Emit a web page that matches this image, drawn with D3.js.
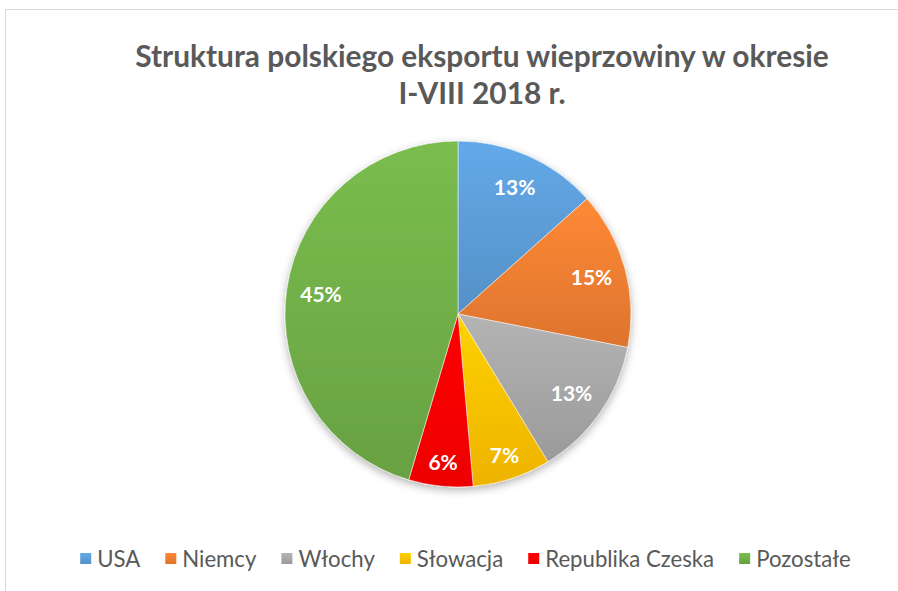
<!DOCTYPE html>
<html>
<head>
<meta charset="utf-8">
<script src="https://cdn.jsdelivr.net/npm/d3@7"></script>
<style>
  html, body { margin: 0; padding: 0; background: #fff; }
  svg { display: block; font-family: Lato, "Open Sans", sans-serif; }
</style>
</head>
<body>
<svg width="898" height="591"></svg>
<script>
const categories = ['USA', 'Niemcy', 'Włochy', 'Słowacja', 'Republika Czeska', 'Pozostałe'];
const shares = [13.4, 14.7, 13.2, 7.3, 6.0, 45.4];
const colors = ['#5B9BD5', '#ED7D31', '#A5A5A5', '#FFC000', '#FF0000', '#70AD47'];
const titleLines = ['Struktura polskiego eksportu wieprzowiny w okresie', 'I-VIII 2018 r.'];

const W = 898, H = 591;
const cx = 458, cy = 314, R = 173;

const svg = d3.select('svg');
const defs = svg.append('defs');

// ramka wykresu
svg.append('rect')
  .attr('x', 5.5).attr('y', 9.5)
  .attr('width', W + 10).attr('height', H + 10)
  .attr('fill', 'none')
  .attr('stroke', '#d9d9d9');

// tytuł - dopasowany do szerokości
const titleG = svg.append('g').attr('fill', '#595959').attr('font-weight', 'bold');
const t1 = titleG.append('text')
  .attr('x', 482).attr('y', 67)
  .attr('text-anchor', 'middle')
  .attr('font-size', 24)
  .text(titleLines[0]);
const fs = 24 * 694 / t1.node().getComputedTextLength();
t1.attr('font-size', fs);
titleG.append('text')
  .attr('x', 482).attr('y', 104)
  .attr('text-anchor', 'middle')
  .attr('font-size', fs)
  .text(titleLines[1]);

// gradienty i cień
colors.forEach((c, i) => {
  const g = defs.append('linearGradient')
    .attr('id', 'grad' + i)
    .attr('x1', 0).attr('y1', 0).attr('x2', 0).attr('y2', 1);
  g.append('stop').attr('offset', '0%').attr('stop-color', d3.color(c).brighter(0.25));
  g.append('stop').attr('offset', '100%').attr('stop-color', d3.color(c).darker(0.2));
});
const f = defs.append('filter').attr('id', 'shadow')
  .attr('x', '-20%').attr('y', '-20%').attr('width', '140%').attr('height', '140%');
f.append('feDropShadow')
  .attr('dx', 0).attr('dy', 3).attr('stdDeviation', 4)
  .attr('flood-color', '#000').attr('flood-opacity', 0.3);

const data = categories.map((name, i) => ({ name, value: shares[i], i }));
const pie = d3.pie().sort(null).value(d => d.value);
const arc = d3.arc().innerRadius(0).outerRadius(R);

const pieG = svg.append('g').attr('transform', `translate(${cx},${cy})`);
const arcs = pie(data);

pieG.append('g').attr('filter', 'url(#shadow)')
  .selectAll('path')
  .data(arcs)
  .join('path')
  .attr('d', arc)
  .attr('fill', d => `url(#grad${d.data.i})`)
  .attr('stroke', '#fff')
  .attr('stroke-width', 0.5);

pieG.selectAll('text.lbl')
  .data(arcs)
  .join('text')
  .attr('class', 'lbl')
  .attr('transform', d => {
    const k = d.data.value < 8 ? 0.86 : 0.8;
    const a = d3.arc().innerRadius(R * k).outerRadius(R * k);
    return `translate(${a.centroid(d)})`;
  })
  .attr('text-anchor', 'middle')
  .attr('dy', '0.36em')
  .attr('fill', '#fff')
  .attr('font-weight', 'bold')
  .attr('font-size', 21)
  .text(d => Math.round(d.data.value) + '%');

// legenda - dopasowana do szerokości 80..851
const legendG = svg.append('g').attr('transform', 'translate(0,559)');
const items = legendG.selectAll('g')
  .data(data)
  .join('g');
items.append('rect')
  .attr('y', -6).attr('width', 11).attr('height', 11)
  .attr('fill', d => `url(#grad${d.i})`);
const texts = items.append('text')
  .attr('x', 17)
  .attr('dy', '0.35em')
  .attr('font-size', 20)
  .attr('fill', '#595959')
  .text(d => d.name);

const gap = 25, sq = 17;
let tw = 0;
texts.each(function () { tw += this.getComputedTextLength(); });
const lfs = 20 * (771 - data.length * sq - (data.length - 1) * gap) / tw;
texts.attr('font-size', lfs);

let x = 0;
const pos = [];
texts.each(function () {
  pos.push(x);
  x += sq + this.getComputedTextLength() + gap;
});
const total = x - gap;
const start = 465.5 - total / 2;
items.attr('transform', (d, i) => `translate(${start + pos[i]},0)`);
</script>
</body>
</html>
